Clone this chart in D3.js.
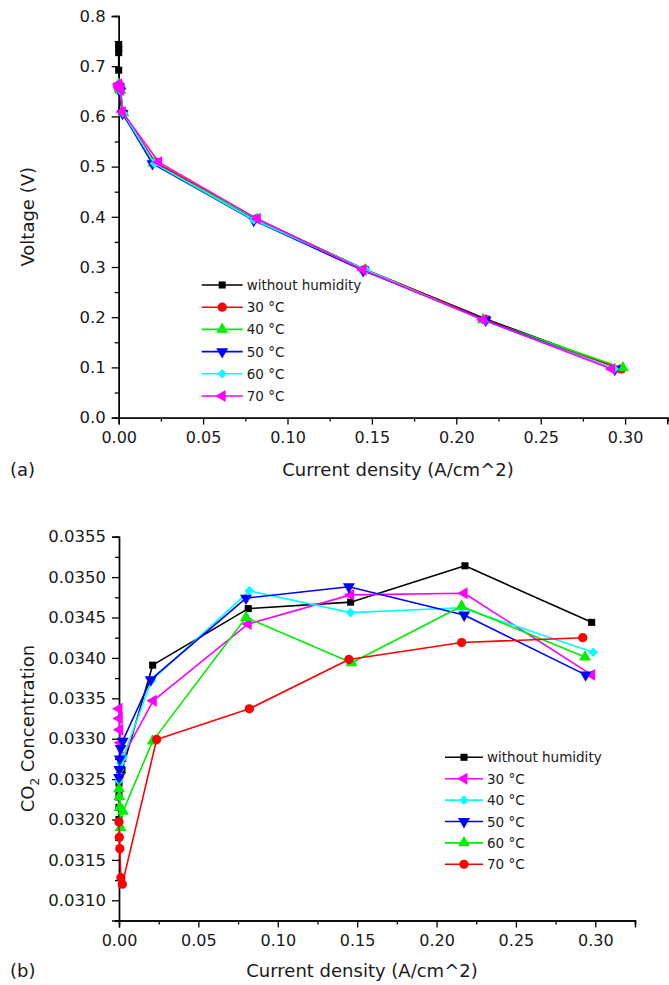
<!DOCTYPE html>
<html><head><meta charset="utf-8">
<script src="https://cdn.jsdelivr.net/npm/d3@7"></script>
<style>
body{margin:0;background:#fff;}
svg{display:block;font-family:"DejaVu Sans",sans-serif;}
</style></head>
<body>
<svg id="c" width="669" height="985"></svg>
<script>
// ---------- data ----------
const seriesKeys = ["without", "t30", "t40", "t50", "t60", "t70"];
const seriesLabels = ["without humidity", "30 °C", "40 °C", "50 °C", "60 °C", "70 °C"];

// current density (A/cm^2)
const jWithout = [0, 0, 0, 0, 0.0005, 0.0019, 0.0212, 0.0814, 0.1459, 0.2179, 0.2977];
const j30 = [0, 0.0002, 0.0005, 0.001, 0.0025, 0.0216, 0.0814, 0.1459, 0.2174, 0.2977];
const j40 = [0, 0.0002, 0.0005, 0.001, 0.0027, 0.0205, 0.0821, 0.1459, 0.2158, 0.2987];
const j50 = [0, 0.0002, 0.0005, 0.001, 0.0023, 0.0200, 0.0800, 0.1448, 0.2174, 0.2939];
const j60 = [0, 0.0002, 0.0005, 0.001, 0.0025, 0.0212, 0.0800, 0.1465, 0.2158, 0.2935];
const j70 = [0, 0.0002, 0.0005, 0.0012, 0.0021, 0.0237, 0.0821, 0.1448, 0.2158, 0.2921];

// voltage (V)
const vWithout = [0.743, 0.735, 0.727, 0.692, 0.655, 0.607, 0.508, 0.395, 0.295, 0.196, 0.097];
const v30 = [0.662, 0.658, 0.655, 0.650, 0.608, 0.509, 0.396, 0.295, 0.195, 0.097];
const v40 = [0.664, 0.660, 0.656, 0.652, 0.607, 0.507, 0.395, 0.294, 0.195, 0.099];
const v50 = [0.660, 0.657, 0.653, 0.650, 0.606, 0.506, 0.393, 0.293, 0.194, 0.096];
const v60 = [0.662, 0.659, 0.655, 0.651, 0.607, 0.506, 0.394, 0.294, 0.194, 0.097];
const v70 = [0.664, 0.660, 0.657, 0.653, 0.609, 0.509, 0.396, 0.294, 0.195, 0.097];

// CO2 concentration
const co2Without = [0.03200, 0.03215, 0.03230, 0.03245, 0.03255, 0.03261, 0.03391, 0.03461, 0.03469, 0.03514, 0.03444];
const co230 = [0.03337, 0.03325, 0.03311, 0.03295, 0.03278, 0.03347, 0.03442, 0.03478, 0.03480, 0.03379];
const co240 = [0.03248, 0.03255, 0.03262, 0.03270, 0.03277, 0.03372, 0.03483, 0.03456, 0.03462, 0.03407];
const co250 = [0.03252, 0.03262, 0.03275, 0.03288, 0.03297, 0.03373, 0.03474, 0.03488, 0.03453, 0.03379];
const co260 = [0.03238, 0.03228, 0.03215, 0.03190, 0.03210, 0.03297, 0.03450, 0.03394, 0.03464, 0.03401];
const co270 = [0.03197, 0.03178, 0.03164, 0.03128, 0.03120, 0.03299, 0.03337, 0.03398, 0.03419, 0.03425];

const xTicks = [0, 0.05, 0.10, 0.15, 0.20, 0.25, 0.30];
const vTicks = [0.0, 0.1, 0.2, 0.3, 0.4, 0.5, 0.6, 0.7, 0.8];
const co2Ticks = [0.0310, 0.0315, 0.0320, 0.0325, 0.0330, 0.0335, 0.0340, 0.0345, 0.0350, 0.0355];

// styles per chart (colour, symbol) in series order
const topColors = ["#000000", "#ff0000", "#00ee00", "#0000ff", "#00ffff", "#ff00ff"];
const topSymbols = ["square", "circle", "up", "down", "diamond", "left"];
const botColors = ["#000000", "#ff00ff", "#00ffff", "#0000ff", "#00ee00", "#ff0000"];
const botSymbols = ["square", "left", "diamond", "down", "up", "circle"];

const jArr = [jWithout, j30, j40, j50, j60, j70];
const vArr = [vWithout, v30, v40, v50, v60, v70];
const cArr = [co2Without, co230, co240, co250, co260, co270];

// ---------- drawing ----------
const svg = d3.select("#c");
const textCol = "#1a1a1a";
const FONT = '"DejaVu Sans",sans-serif';

function symPath(kind) {
  const m = {
    square: [d3.symbolSquare, 50, 0],
    circle: [d3.symbolCircle, 68, 0],
    up: [d3.symbolTriangle, 62, 0],
    down: [d3.symbolTriangle, 62, 180],
    left: [d3.symbolTriangle, 62, -90],
    diamond: [d3.symbolSquare, 46, 45]
  }[kind];
  return { d: d3.symbol().type(m[0]).size(m[1])(), rot: m[2] };
}

function drawChart(opt) {
  const g = svg.append("g");
  const x = d3.scaleLinear().domain([0, 0.325]).range([opt.x0, opt.x1]);
  const y = d3.scaleLinear().domain(opt.yDomain).range([opt.y0, opt.y1]);

  // axes
  const xa = g.append("g").attr("transform", `translate(0,${opt.y0})`)
    .call(d3.axisBottom(x).tickValues(xTicks).tickFormat(d3.format(".2f")).tickSize(7).tickPadding(7));
  const xm = g.append("g").attr("transform", `translate(0,${opt.y0})`)
    .call(d3.axisBottom(x).tickValues(xTicks.map(t => t + 0.025)).tickFormat("").tickSize(4));
  const ya = g.append("g").attr("transform", `translate(${opt.x0},0)`)
    .call(d3.axisLeft(y).tickValues(opt.yTicks).tickFormat(opt.yFmt).tickSize(7).tickPadding(6));
  const minorY = opt.yTicks.slice(0, -1).map((t, i) => (t + opt.yTicks[i + 1]) / 2);
  if (opt.yDomain[0] < opt.yTicks[0]) minorY.unshift(opt.yTicks[0] - (opt.yTicks[1] - opt.yTicks[0]) / 2);
  const ym = g.append("g").attr("transform", `translate(${opt.x0},0)`)
    .call(d3.axisLeft(y).tickValues(minorY).tickFormat("").tickSize(4));
  [xa, xm, ya, ym].forEach(a => {
    a.selectAll("path.domain").attr("stroke", "#000").attr("stroke-width", 1.4);
    a.selectAll(".tick line").attr("stroke", "#000").attr("stroke-width", 1.3);
    a.selectAll(".tick text").attr("fill", textCol).attr("font-family", FONT);
  });
  xa.selectAll(".tick text").attr("font-size", 16);
  ya.selectAll(".tick text").attr("font-size", 16.5);

  // series
  opt.order.forEach(i => {
    const pts = jArr[i].map((j, k) => [j, opt.vals[i][k]]);
    const col = opt.colors[i];
    g.append("path").datum(pts)
      .attr("fill", "none").attr("stroke", col).attr("stroke-width", 1.6)
      .attr("stroke-linejoin", "round")
      .attr("d", d3.line().x(d => x(d[0])).y(d => y(d[1])));
    const s = symPath(opt.symbols[i]);
    g.selectAll(null).data(pts).enter().append("path")
      .attr("d", s.d).attr("fill", col)
      .attr("transform", d => `translate(${x(d[0])},${y(d[1])}) rotate(${s.rot})`);
  });

  // legend
  seriesKeys.forEach((k, i) => {
    const ly = opt.legY + i * opt.legDy;
    const col = opt.colors[i];
    g.append("line").attr("x1", opt.legX).attr("x2", opt.legX + opt.legLen)
      .attr("y1", ly).attr("y2", ly).attr("stroke", col).attr("stroke-width", 1.6);
    const s = symPath(opt.symbols[i]);
    g.append("path").attr("d", s.d).attr("fill", col)
      .attr("transform", `translate(${opt.legX + opt.legLen / 2},${ly}) rotate(${s.rot})`);
    g.append("text").attr("x", opt.legX + opt.legLen + 4).attr("y", ly + 5)
      .attr("fill", textCol).attr("font-size", 13.5).text(seriesLabels[i]);
  });

  // axis titles
  g.append("text").attr("x", opt.xTitleX).attr("y", opt.xTitleY)
    .attr("text-anchor", "middle").attr("fill", textCol).attr("font-size", 18)
    .text("Current density (A/cm^2)");
  const yt = g.append("text").attr("transform", `translate(${opt.yTitleX},${(opt.y0 + opt.y1) / 2}) rotate(-90)`)
    .attr("text-anchor", "middle").attr("fill", textCol).attr("font-size", 18);
  opt.yTitle(yt);
  g.append("text").attr("x", 10).attr("y", opt.xTitleY).attr("fill", textCol)
    .attr("font-size", 18).text(opt.panel);
}

drawChart({
  x0: 118.7, x1: 667.3, y0: 417.6, y1: 16,
  yDomain: [0, 0.8], yTicks: vTicks, yFmt: d3.format(".1f"),
  vals: vArr, colors: topColors, symbols: topSymbols,
  order: [0, 1, 2, 3, 4, 5],
  legX: 201.7, legY: 285, legDy: 22.2, legLen: 41,
  xTitleX: 398, xTitleY: 476, yTitleX: 34,
  yTitle: t => t.text("Voltage (V)"),
  panel: "(a)"
});

drawChart({
  x0: 119, x1: 635, y0: 920.5, y1: 536.7,
  yDomain: [0.03075, 0.0355], yTicks: co2Ticks, yFmt: d3.format(".4f"),
  vals: cArr, colors: botColors, symbols: botSymbols,
  order: [0, 1, 2, 3, 4, 5],
  legX: 445, legY: 757.3, legDy: 21.4, legLen: 38,
  xTitleX: 362, xTitleY: 977, yTitleX: 34,
  yTitle: t => {
    t.append("tspan").text("CO");
    t.append("tspan").attr("font-size", 12).attr("dy", 5).text("2");
    t.append("tspan").attr("dy", -5).text(" Concentration");
  },
  panel: "(b)"
});
</script>
</body></html>
